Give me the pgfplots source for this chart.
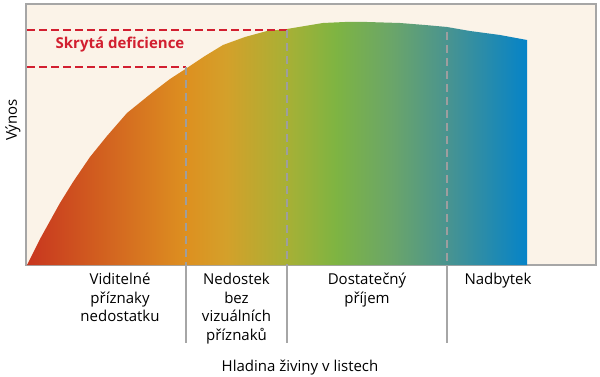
\documentclass[border=0pt]{standalone}
\usepackage{pgfplots}
\pgfplotsset{compat=1.18}
\usepackage{fontspec}
\setmainfont{Open Sans}
\definecolor{bgcream}{HTML}{FBF3E8}
\definecolor{boxgray}{HTML}{A6A6A6}
\definecolor{dashgray}{HTML}{9E9E9E}
\definecolor{defred}{HTML}{D21F30}
\definecolor{c1}{HTML}{C8361F}
\definecolor{c2}{HTML}{DD9020}
\definecolor{c3}{HTML}{D4A02A}
\definecolor{c4}{HTML}{A8B035}
\definecolor{c5}{HTML}{7EB442}
\definecolor{c6}{HTML}{6AA56A}
\definecolor{c7}{HTML}{4A948F}
\definecolor{c8}{HTML}{0583C8}
\pgfdeclarehorizontalshading{yieldshade}{100bp}{color(0bp)=(c1); color(25bp)=(c1); color(40.9bp)=(c2); color(44.9bp)=(c3); color(50.9bp)=(c4); color(55.9bp)=(c5); color(61.6bp)=(c6); color(66.9bp)=(c7); color(75bp)=(c8); color(100bp)=(c8)}
\begin{document}
\begin{tikzpicture}
\begin{axis}[
  scale only axis,
  width=570bp, height=261bp,
  xmin=26, xmax=596, ymin=0, ymax=261,
  ticks=none,
  clip=false,
  axis background/.style={fill=bgcream},
  axis line style={boxgray, line width=1.3bp},
]
\addplot[draw=none, shade, shading=yieldshade] coordinates {
(27,0) (33,12) (40,26) (50,44) (60,62) (73,83) (90,108) (107,129) (127,152)
(153,173) (170,186) (187,197) (205,209) (223,220) (245,228) (267,234) (287,236)
(305,239) (323,242) (345,243) (367,243) (400,242) (425,240) (447,238) (470,234)
(500,230) (527,225) (527,0)
} \closedcycle;
% red dashed lines (hidden deficiency)
\addplot[defred, line width=2bp, dash pattern=on 7.5bp off 4.5bp] coordinates {(27,235) (287,235)};
\addplot[defred, line width=2bp, dash pattern=on 7.5bp off 4.5bp] coordinates {(27,198) (186,198)};
% gray dashed verticals
\addplot[dashgray, line width=2bp, dash pattern=on 8bp off 5bp] coordinates {(186,198) (186,0)};
\addplot[dashgray, line width=2bp, dash pattern=on 8bp off 5bp] coordinates {(287,235) (287,0)};
\addplot[dashgray, line width=2bp, dash pattern=on 8bp off 5bp] coordinates {(447,233) (447,0)};
% solid separators below axis
\addplot[boxgray, line width=1.5bp] coordinates {(186,0) (186,-78)};
\addplot[boxgray, line width=1.5bp] coordinates {(287,0) (287,-78)};
\addplot[boxgray, line width=1.5bp] coordinates {(447,0) (447,-78)};
% texts
\node[defred, font=\fontsize{15bp}{18bp}\selectfont\bfseries] at (axis cs:120,220) {Skrytá deficience};
\node[rotate=90, font=\fontsize{15bp}{18bp}\selectfont] at (axis cs:13,145) {Výnos};
\node[anchor=north, inner sep=0pt, align=center, font=\fontsize{15bp}{18.5bp}\selectfont] at (axis cs:120,-8) {Viditelné\\příznaky\\nedostatku};
\node[anchor=north, inner sep=0pt, align=center, font=\fontsize{15bp}{18.5bp}\selectfont] at (axis cs:236.5,-8) {Nedostek\\bez\\vizuálních\\příznaků};
\node[anchor=north, inner sep=0pt, align=center, font=\fontsize{15bp}{18.5bp}\selectfont] at (axis cs:367,-8) {Dostatečný\\příjem};
\node[anchor=north, inner sep=0pt, align=center, font=\fontsize{15bp}{18.5bp}\selectfont] at (axis cs:498,-8) {Nadbytek};
\node[font=\fontsize{15bp}{18bp}\selectfont] at (axis cs:300,-103) {Hladina živiny v listech};
\end{axis}
\pgfresetboundingbox
\path (current axis.south west) ++(-26bp,-112bp) rectangle ++(600bp,377bp);
\end{tikzpicture}
\end{document}
